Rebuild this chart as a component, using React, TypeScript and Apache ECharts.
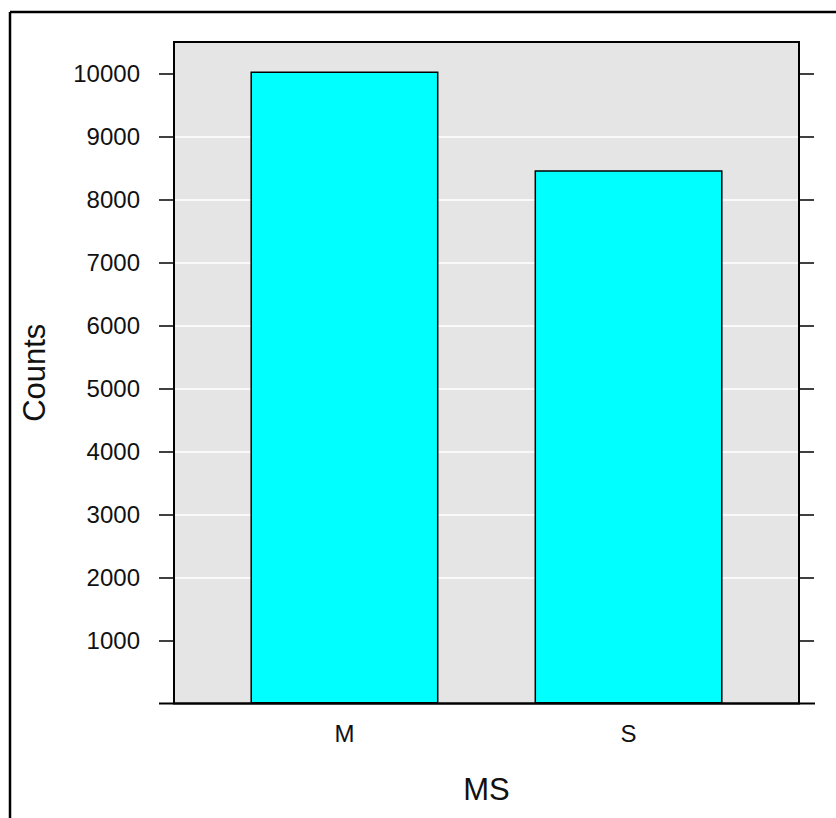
import React, { useEffect, useRef } from "react";
import * as echarts from "echarts";

const categories = ["M", "S"];
const positions = [1, 2];
const counts = [10030, 8465];
const yTickValues = [1000, 2000, 3000, 4000, 5000, 6000, 7000, 8000, 9000, 10000];

const FONT = "'Liberation Sans', Arial, sans-serif";

export default function App() {
  const ref = useRef<HTMLDivElement>(null);
  useEffect(() => {
    if (!ref.current) return;
    const chart = echarts.init(ref.current, undefined, { renderer: "svg" });
    const gridLeft = 174;
    const gridTop = 42;
    const gridRight = 799;
    const gridBottom = 703.5;
    chart.setOption({
      animation: false,
      backgroundColor: "#ffffff",
      textStyle: { fontFamily: FONT },
      grid: {
        left: gridLeft,
        top: gridTop,
        width: gridRight - gridLeft,
        height: gridBottom - gridTop,
        show: true,
        backgroundColor: "#E5E5E5",
        borderWidth: 0,
      },
      xAxis: {
        type: "value",
        min: 0.4,
        max: 2.6,
        position: "bottom",
        name: "MS",
        nameLocation: "middle",
        nameGap: 70,
        nameTextStyle: { fontSize: 31, color: "#111", fontFamily: FONT },
        axisLine: { show: false },
        axisTick: { show: false },
        splitLine: { show: false },
        axisLabel: {
          customValues: positions,
          formatter: (v: number) => categories[Math.round(v) - 1] ?? "",
          fontSize: 24,
          color: "#111",
          margin: 18,
          fontFamily: FONT,
        },
      },
      yAxis: [
        {
          type: "value",
          min: 0,
          max: 10500,
          interval: 1000,
          position: "left",
          name: "Counts",
          nameLocation: "middle",
          nameGap: 124,
          nameTextStyle: { fontSize: 31, color: "#111", fontFamily: FONT },
          axisLine: { show: false },
          axisTick: {
            show: true,
            customValues: yTickValues,
            length: 15,
            lineStyle: { color: "#000", width: 1.5 },
          },
          axisLabel: {
            customValues: yTickValues,
            formatter: (v: number) => String(v),
            fontSize: 24,
            color: "#111",
            margin: 34,
            fontFamily: FONT,
          },
          splitLine: {
            show: true,
            showMinLine: false,
            showMaxLine: false,
            lineStyle: { color: "#ffffff", width: 1.5 },
          },
        },
        {
          type: "value",
          min: 0,
          max: 10500,
          interval: 1000,
          position: "right",
          axisLine: { show: false },
          axisTick: {
            show: true,
            customValues: yTickValues,
            length: 15,
            lineStyle: { color: "#000", width: 1.5 },
          },
          axisLabel: { show: false },
          splitLine: { show: false },
        },
      ],
      series: [
        {
          type: "bar",
          xAxisIndex: 0,
          yAxisIndex: 0,
          barWidth: 188,
          data: positions.map((p, i) => [p, counts[i]]),
          itemStyle: { color: "#00FFFF", borderColor: "#000", borderWidth: 1.5 },
          z: 3,
        },
      ],
      graphic: [
        {
          type: "rect",
          z: 100,
          shape: { x: gridLeft, y: gridTop, width: gridRight - gridLeft, height: gridBottom - gridTop },
          style: { fill: "none", stroke: "#000", lineWidth: 2 },
          silent: true,
        },
        {
          type: "line",
          z: 100,
          shape: { x1: 159, y1: gridBottom, x2: 815, y2: gridBottom },
          style: { stroke: "#000", lineWidth: 2 },
          silent: true,
        },
        {
          type: "line",
          z: 100,
          shape: { x1: 10, y1: 12, x2: 836, y2: 12 },
          style: { stroke: "#000", lineWidth: 2.5 },
          silent: true,
        },
        {
          type: "line",
          z: 100,
          shape: { x1: 10, y1: 12, x2: 10, y2: 818 },
          style: { stroke: "#000", lineWidth: 2.5 },
          silent: true,
        },
      ],
    });
    return () => chart.dispose();
  }, []);
  return (
    <div
      ref={ref}
      style={{ position: "fixed", left: 0, top: 0, width: 836, height: 818 }}
    />
  );
}
